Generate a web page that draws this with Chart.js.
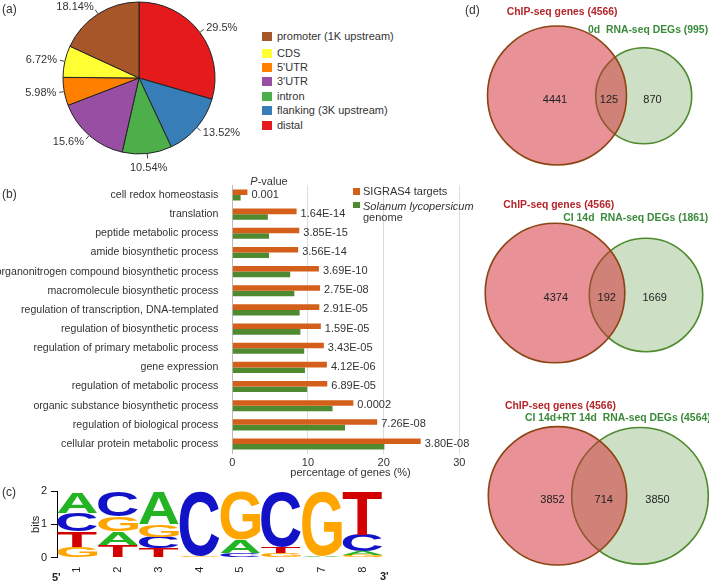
<!DOCTYPE html>
<html><head><meta charset="utf-8">
<script src="https://cdn.jsdelivr.net/npm/chart.js@4.4.1/dist/chart.umd.min.js"></script>
<style>
html,body{margin:0;padding:0;background:#fff;}
body{width:709px;height:581px;position:relative;overflow:hidden;font-family:"Liberation Sans",Arial,sans-serif;}
canvas{position:absolute;}
.t{position:absolute;white-space:pre;line-height:1;}
</style></head><body>
<canvas id="pie" width="250" height="178" style="left:0px;top:0px"></canvas>
<canvas id="go" width="480" height="310" style="left:0px;top:170px"></canvas>
<canvas id="logo" width="400" height="101" style="left:0px;top:480px"></canvas>
<canvas id="v0" width="249" height="190" style="left:460px;top:0px"></canvas>
<canvas id="v1" width="249" height="190" style="left:460px;top:190px"></canvas>
<canvas id="v2" width="249" height="201" style="left:460px;top:380px"></canvas>
<script>
// ---------- (a) peak distribution ----------
const pieLabels = ['distal', 'flanking (3K upstream)', 'intron', "3'UTR", "5'UTR", 'CDS', 'promoter (1K upstream)'];
const pieValues = [29.5, 13.52, 10.54, 15.6, 5.98, 6.72, 18.14];
const pieColors = ['#e41a1c', '#377eb8', '#4daf4a', '#984ea3', '#ff7f00', '#ffff33', '#a65628'];

// ---------- (b) GO enrichment ----------
const goTerms = ['cell redox homeostasis', 'translation', 'peptide metabolic process', 'amide biosynthetic process',
  'organonitrogen compound biosynthetic process', 'macromolecule biosynthetic process',
  'regulation of transcription, DNA-templated', 'regulation of biosynthetic process',
  'regulation of primary metabolic process', 'gene expression', 'regulation of metabolic process',
  'organic substance biosynthetic process', 'regulation of biological process', 'cellular protein metabolic process'];
const sigras4Pct = [2.0, 8.5, 8.85, 8.7, 11.45, 11.6, 11.5, 11.7, 12.1, 12.5, 12.55, 16.0, 19.15, 24.9];
const genomePct = [1.1, 4.7, 4.85, 4.85, 7.65, 8.2, 8.9, 9.0, 9.5, 9.6, 9.9, 13.25, 14.9, 20.1];
const pValues = ['0.001', '1.64E-14', '3.85E-15', '3.56E-14', '3.69E-10', '2.75E-08', '2.91E-05', '1.59E-05',
  '3.43E-05', '4.12E-06', '6.89E-05', '0.0002', '7.26E-08', '3.80E-08'];
const pctTicks = [0, 10, 20, 30];

// ---------- (c) motif logo (layers from bottom to top) ----------
const logoPositions = ['1', '2', '3', '4', '5', '6', '7', '8'];
const layer1Letters = ['G', 'T', 'T', 'G', 'C', 'G', 'A', 'G'];
const layer1Bits = [0.31, 0.38, 0.28, 0.06, 0.13, 0.13, 0.06, 0.08];
const layer2Letters = ['T', 'A', 'C', 'A', 'A', 'T', 'A', 'A'];
const layer2Bits = [0.48, 0.40, 0.35, 0, 0.40, 0.20, 0, 0.10];
const layer3Letters = ['C', 'G', 'G', 'G', 'G', 'G', 'G', 'C'];
const layer3Bits = [0.56, 0.45, 0.37, 0, 0, 0, 0, 0.50];
const layer4Letters = ['A', 'C', 'A', 'C', 'G', 'C', 'G', 'T'];
const layer4Bits = [0.63, 0.75, 0.98, 1.92, 1.47, 1.67, 1.94, 1.32];
const bitTicks = [0, 1, 2];
const letterColors = {A: '#22b422', C: '#1212c8', G: '#ffa500', T: '#d20000'};

// ---------- (d) Venn diagrams ----------
const vennGroups = ['0d', 'CI 14d', 'CI 14d+RT 14d'];
const chipTotal = [4566, 4566, 4566];
const rnaTotal = [995, 1861, 4564];
const chipOnly = [4441, 4374, 3852];
const overlapCount = [125, 192, 714];
const rnaOnly = [870, 1669, 3850];
const chipCircleX = [97, 95, 97.5];
const chipCircleY = [95.5, 103, 115.8];
const chipCircleR = [69.5, 69.8, 69.2];
const rnaCircleX = [183.7, 186, 180];
const rnaCircleY = [95.8, 105, 115.8];
const rnaCircleR = [48, 56.7, 68.3];

const FAM = '"Liberation Sans", Arial, sans-serif';
Chart.defaults.font.family = FAM;
Chart.defaults.font.size = 11;
Chart.defaults.color = '#333';
Chart.defaults.devicePixelRatio = 1;

function txt(html, x, y, o = {}) {
  const d = document.createElement('div');
  d.className = 't';
  d.innerHTML = html;
  const tx = o.align === 'center' ? '-50%' : o.align === 'right' ? '-100%' : '0';
  d.style.left = x + 'px'; d.style.top = y + 'px';
  d.style.font = o.font || ('11px ' + FAM);
  d.style.color = o.color || '#333';
  d.style.transform = `translate(${tx},-50%)`;
  document.body.appendChild(d);
  return d;
}
function box(x, y, w, h, c) {
  const d = document.createElement('div');
  d.style.cssText = `position:absolute;left:${x}px;top:${y}px;width:${w}px;height:${h}px;background:${c}`;
  document.body.appendChild(d);
}
const noPlug = {legend: {display: false}, tooltip: {enabled: false}};

// ===== (a) pie =====
const pieLabelPlugin = {
  id: 'pieLabels',
  afterDatasetsDraw(chart) {
    const ctx = chart.ctx, meta = chart.getDatasetMeta(0);
    ctx.save();
    ctx.font = '11px ' + FAM; ctx.fillStyle = '#333'; ctx.strokeStyle = '#444'; ctx.lineWidth = 1;
    ctx.textBaseline = 'middle';
    meta.data.forEach((arc, i) => {
      const p = arc.getProps(['x', 'y', 'startAngle', 'endAngle', 'outerRadius'], true);
      const a = (p.startAngle + p.endAngle) / 2, c = Math.cos(a), s = Math.sin(a);
      ctx.beginPath();
      ctx.moveTo(p.x + c * (p.outerRadius + 0.5), p.y + s * (p.outerRadius + 0.5));
      ctx.lineTo(p.x + c * (p.outerRadius + 5), p.y + s * (p.outerRadius + 5));
      ctx.stroke();
      const mid = Math.abs(c) < 0.3;
      const off = p.outerRadius + (mid ? 14 : 8);
      ctx.textAlign = mid ? 'center' : (c > 0 ? 'left' : 'right');
      ctx.fillText(pieValues[i] + '%', p.x + c * off, p.y + s * off);
    });
    ctx.restore();
  }
};
new Chart(document.getElementById('pie'), {
  type: 'pie',
  data: {labels: pieLabels, datasets: [{data: pieValues, backgroundColor: pieColors, borderColor: '#222', borderWidth: 1, radius: 76}]},
  options: {responsive: false, animation: false, events: [],
    layout: {padding: {left: 59, right: 31, top: 0, bottom: 22}}, plugins: noPlug},
  plugins: [pieLabelPlugin]
});
// legend (a), reversed order as in the figure
const legY = [36, 53, 67.3, 81.3, 96, 110, 125];
pieLabels.slice().reverse().forEach((lab, k) => {
  const i = pieLabels.length - 1 - k;
  box(262, legY[k] - 4.5, 10, 9, pieColors[i]);
  txt(lab, 277, legY[k]);
});
txt('(a)', 2, 9, {font: '12px ' + FAM});

// ===== (b) GO bar chart =====
const pLabelPlugin = {
  id: 'pLabels',
  afterDatasetsDraw(chart) {
    const ctx = chart.ctx, m0 = chart.getDatasetMeta(0), m1 = chart.getDatasetMeta(1);
    ctx.save();
    ctx.font = '11px ' + FAM; ctx.fillStyle = '#333'; ctx.textBaseline = 'middle'; ctx.textAlign = 'left';
    pValues.forEach((p, i) => {
      const a = m0.data[i], b = m1.data[i];
      ctx.fillText(p, Math.max(a.x, b.x) + 4, (a.y + b.y) / 2 - 0.5);
    });
    ctx.restore();
  }
};
new Chart(document.getElementById('go'), {
  type: 'bar',
  data: {labels: goTerms, datasets: [
    {label: 'SIGRAS4 targets', data: sigras4Pct, backgroundColor: '#d45f1a', categoryPercentage: 0.58, barPercentage: 1},
    {label: 'Solanum lycopersicum genome', data: genomePct, backgroundColor: '#4f8a30', categoryPercentage: 0.58, barPercentage: 1}
  ]},
  options: {indexAxis: 'y', responsive: false, animation: false, events: [],
    layout: {padding: {top: 15.4, right: 20.7, left: 0, bottom: 0}},
    scales: {
      x: {min: 0, max: 30, afterBuildTicks(s) { s.ticks = pctTicks.map(v => ({value: v})); },
        ticks: {color: '#333', padding: 3, font: {size: 11}},
        grid: {color: '#dcdcdc', drawTicks: false}, border: {display: false},
        afterFit(s) { s.height = 26.4; }},
      y: {ticks: {color: '#333', padding: 6, autoSkip: false, font: {size: 10.6}},
        grid: {display: false}, border: {color: '#bbbbbb'},
        afterFit(s) { s.width = 232.3; }}
    },
    plugins: noPlug},
  plugins: [pLabelPlugin]
});
txt('<i>P</i>-value', 269, 180.5, {align: 'center'});
box(352.5, 188.3, 7, 6.5, '#d45f1a');
box(352.5, 201.8, 7, 6.5, '#4f8a30');
txt('SIGRAS4 targets', 363, 191.3);
txt('<i>Solanum lycopersicum</i>', 363, 205.5);
txt('genome', 363, 216.5);
txt('percentage of genes (%)', 350.5, 472, {align: 'center'});
txt('(b)', 2, 194, {font: '12px ' + FAM});

// ===== (c) sequence logo =====
const layers = [[layer1Letters, layer1Bits], [layer2Letters, layer2Bits], [layer3Letters, layer3Bits], [layer4Letters, layer4Bits]];
function drawLetter(ctx, L, color, x, y, w, h) {
  ctx.save();
  ctx.font = 'bold 100px ' + FAM;
  ctx.textAlign = 'left'; ctx.textBaseline = 'alphabetic';
  const m = ctx.measureText(L);
  const gw = m.actualBoundingBoxLeft + m.actualBoundingBoxRight;
  const gh = m.actualBoundingBoxAscent + m.actualBoundingBoxDescent;
  ctx.translate(x, y);
  ctx.scale(w / gw, h / gh);
  ctx.fillStyle = color;
  ctx.fillText(L, m.actualBoundingBoxLeft, m.actualBoundingBoxAscent);
  ctx.restore();
}
const logoPlugin = {
  id: 'logoLetters',
  afterDatasetsDraw(chart) {
    const ctx = chart.ctx;
    layers.forEach((ly, di) => {
      chart.getDatasetMeta(di).data.forEach((bar, j) => {
        const p = bar.getProps(['x', 'y', 'base', 'width'], true);
        const h = Math.abs(p.base - p.y);
        if (h < 0.3) return;
        drawLetter(ctx, ly[0][j], letterColors[ly[0][j]], p.x - p.width / 2 + 0.5, Math.min(p.y, p.base), p.width - 1, h);
      });
    });
  }
};
new Chart(document.getElementById('logo'), {
  type: 'bar',
  data: {labels: logoPositions, datasets: layers.map(ly => ({data: ly[1], backgroundColor: 'rgba(0,0,0,0)', categoryPercentage: 1, barPercentage: 1}))},
  options: {responsive: false, animation: false, events: [],
    layout: {padding: {left: 25, top: 11, right: 17, bottom: 0}},
    scales: {
      x: {stacked: true, grid: {display: false, drawTicks: false}, border: {display: false},
        ticks: {minRotation: 90, maxRotation: 90, padding: 9, color: '#222', font: {size: 11}},
        afterFit(s) { s.height = 23.3; }},
      y: {stacked: true, min: 0, max: 2, afterBuildTicks(s) { s.ticks = bitTicks.map(v => ({value: v})); },
        ticks: {padding: 4, color: '#222', font: {size: 11}},
        grid: {drawOnChartArea: false, drawTicks: true, tickLength: 6, color: '#000'},
        border: {color: '#000', width: 1},
        title: {display: true, text: 'bits', color: '#222', font: {size: 11}, padding: {top: 4, bottom: 4}},
        afterFit(s) { s.width = 32; }}
    },
    plugins: noPlug},
  plugins: [logoPlugin]
});
txt("5'", 52, 577, {font: 'bold 11px ' + FAM, color: '#222'});
txt("3'", 380, 575.7, {font: 'bold 11px ' + FAM, color: '#222'});
txt('(c)', 2, 492, {font: '12px ' + FAM});

// ===== (d) Venn diagrams =====
['v0', 'v1', 'v2'].forEach((id, k) => {
  const cv = document.getElementById(id);
  const ch = new Chart(cv, {
    type: 'bubble',
    data: {datasets: [
      {data: [{x: chipCircleX[k], y: chipCircleY[k], r: chipCircleR[k]}], backgroundColor: 'rgba(210,40,50,0.51)', borderColor: '#8b4513', borderWidth: 1.6, clip: false},
      {data: [{x: rnaCircleX[k], y: rnaCircleY[k], r: rnaCircleR[k]}], backgroundColor: 'rgba(90,150,60,0.3)', borderColor: '#4e8b2e', borderWidth: 1.6, clip: false}
    ]},
    options: {responsive: false, animation: false, events: [],
      layout: {padding: 0},
      scales: {x: {type: 'linear', min: 0, max: cv.width, display: false},
               y: {type: 'linear', min: 0, max: cv.height, reverse: true, display: false}},
      plugins: noPlug}
  });
  // the bubble controller insets the plot area by the largest radius; map panel units 1:1 onto the canvas
  const ca = ch.chartArea;
  ch.options.scales.x.min = ca.left; ch.options.scales.x.max = ca.right;
  ch.options.scales.y.min = ca.top; ch.options.scales.y.max = ca.bottom;
  ch.update();
});
const vTitleRed = [[506.7, 10.5], [503.3, 204], [505, 405]];
const vTitleGreen = [[588, 29], [563.3, 217], [525, 417.3]];
const vNumY = [99, 296.7, 499.3];
const vNumX = [[555, 609, 652.5], [555.8, 606.7, 654.7], [552.5, 603.7, 657.5]];
for (let k = 0; k < 3; k++) {
  txt(`ChIP-seq genes (${chipTotal[k]})`, vTitleRed[k][0], vTitleRed[k][1], {font: 'bold 10.4px ' + FAM, color: '#b3262a'});
  txt(`${vennGroups[k]}  RNA-seq DEGs (${rnaTotal[k]})`, vTitleGreen[k][0], vTitleGreen[k][1], {font: 'bold 10.4px ' + FAM, color: '#3b8a3b'});
  [chipOnly[k], overlapCount[k], rnaOnly[k]].forEach((n, j) => txt(String(n), vNumX[k][j], vNumY[k], {align: 'center', color: '#222'}));
}
txt('(d)', 465, 10, {font: '12px ' + FAM});
</script></body></html>
